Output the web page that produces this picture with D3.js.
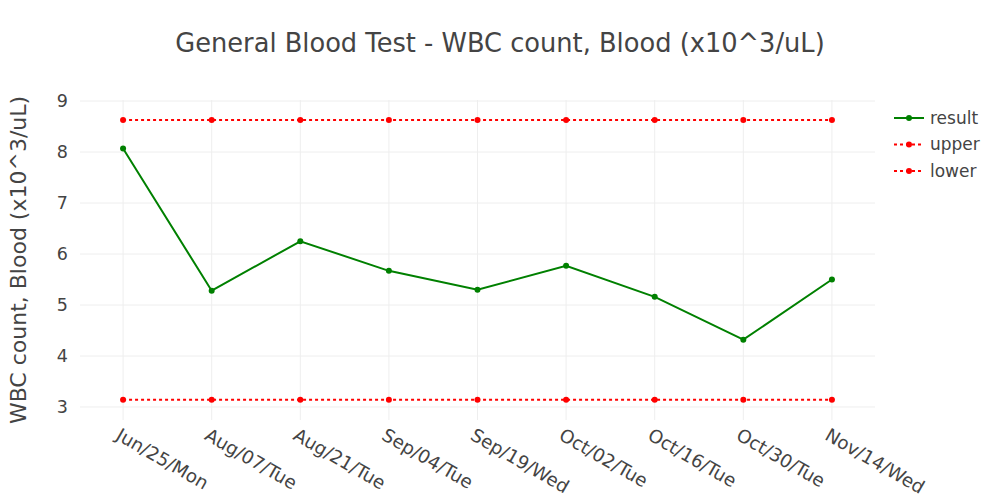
<!DOCTYPE html>
<html><head><meta charset="utf-8">
<script src="https://cdn.jsdelivr.net/npm/d3@7"></script>
<style>body{margin:0;background:#fff}text{font-family:"DejaVu Sans",Verdana,sans-serif;fill:#444}</style>
</head><body><svg id="c" width="1000" height="500"></svg>
<script>
const categories = ["Jun/25/Mon","Aug/07/Tue","Aug/21/Tue","Sep/04/Tue","Sep/19/Wed","Oct/02/Tue","Oct/16/Tue","Oct/30/Tue","Nov/14/Wed"];
const resultValues = [8.07, 5.28, 6.25, 5.67, 5.30, 5.77, 5.16, 4.32, 5.50];
const upperValues = [8.63, 8.63, 8.63, 8.63, 8.63, 8.63, 8.63, 8.63, 8.63];
const lowerValues = [3.14, 3.14, 3.14, 3.14, 3.14, 3.14, 3.14, 3.14, 3.14];
const yTicks = [3, 4, 5, 6, 7, 8, 9];
const seriesNames = ["result", "upper", "lower"];

const svg = d3.select("#c");
const L = 80, R = 875, T = 100, B = 420;
const x = d3.scaleLinear().domain([-0.486, categories.length - 1 + 0.486]).range([L, R]);
const y = d3.scaleLinear().domain([2.745, 9.02]).range([B, T]);

// grid
svg.append("g").selectAll("line").data(categories).join("line")
  .attr("x1", (d, i) => x(i)).attr("x2", (d, i) => x(i)).attr("y1", T).attr("y2", B)
  .attr("stroke", "#eee").attr("stroke-width", 1);
svg.append("g").selectAll("line").data(yTicks).join("line")
  .attr("x1", L).attr("x2", R).attr("y1", d => y(d)).attr("y2", d => y(d))
  .attr("stroke", "#eee").attr("stroke-width", 1);

// axes
const yAxis = d3.axisLeft(y).tickValues(yTicks).tickFormat(d3.format("d")).tickSize(0).tickPadding(12);
const yg = svg.append("g").attr("transform", `translate(${L},0)`).call(yAxis);
yg.select(".domain").remove();
yg.selectAll("text").style("font-size", "17.5px").attr("fill", "#444");

const xAxis = d3.axisBottom(x).tickValues(d3.range(categories.length)).tickFormat(i => categories[i]).tickSize(0);
const xg = svg.append("g").attr("transform", `translate(0,${B})`).call(xAxis);
xg.select(".domain").remove();
xg.selectAll("text").style("font-size", "18.3px").attr("fill", "#444")
  .attr("text-anchor", "start").attr("dy", null).attr("y", 0)
  .attr("transform", "translate(-2,7) rotate(30)").attr("dominant-baseline", "hanging");

// series
const line = d3.line().x((d, i) => x(i)).y(d => y(d));
const series = [
  {name: seriesNames[0], data: resultValues, color: "green", dash: null},
  {name: seriesNames[1], data: upperValues, color: "red", dash: "3,3"},
  {name: seriesNames[2], data: lowerValues, color: "red", dash: "3,3"}
];
series.forEach(s => {
  svg.append("path").datum(s.data).attr("d", line).attr("fill", "none")
    .attr("stroke", s.color).attr("stroke-width", 2).attr("stroke-dasharray", s.dash);
  svg.append("g").selectAll("circle").data(s.data).join("circle")
    .attr("cx", (d, i) => x(i)).attr("cy", d => y(d)).attr("r", 3).attr("fill", s.color);
});

// legend
series.forEach((s, k) => {
  const ly = 118 + k * 26.5;
  svg.append("line").attr("x1", 894).attr("x2", 924).attr("y1", ly).attr("y2", ly)
    .attr("stroke", s.color).attr("stroke-width", 2).attr("stroke-dasharray", s.dash);
  svg.append("circle").attr("cx", 909).attr("cy", ly).attr("r", 3).attr("fill", s.color);
  svg.append("text").attr("x", 930).attr("y", ly).attr("dy", "0.35em").style("font-size", "17px").text(s.name);
});

// titles
svg.append("text").attr("x", 500).attr("y", 43).attr("dy", "0.35em").attr("text-anchor", "middle")
  .style("font-size", "25.7px").text("General Blood Test - WBC count, Blood (x10^3/uL)");
svg.append("text").attr("transform", `translate(18,${(T + B) / 2}) rotate(-90)`).attr("text-anchor", "middle")
  .attr("dy", "0.35em").style("font-size", "22px").text("WBC count, Blood (x10^3/uL)");
</script></body></html>
